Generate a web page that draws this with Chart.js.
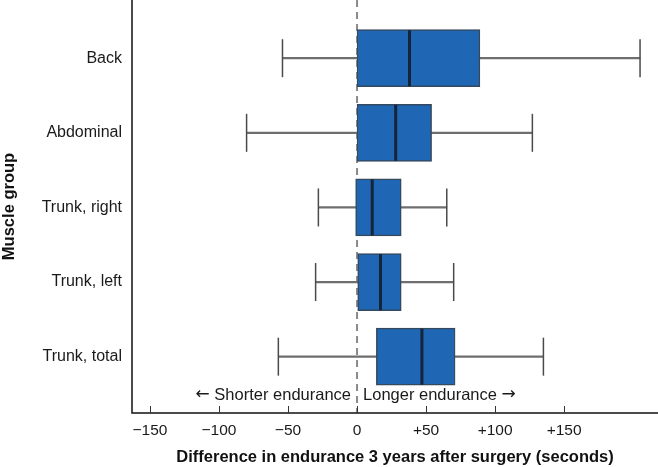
<!DOCTYPE html>
<html>
<head>
<meta charset="utf-8">
<script src="https://cdn.jsdelivr.net/npm/chart.js@4/dist/chart.umd.min.js"></script>
<style>
  html, body { margin: 0; padding: 0; background: #fff; }
  #wrap { width: 658px; height: 467px; }
</style>
</head>
<body>
<div id="wrap"><canvas id="chart"></canvas></div>
<script>
  // Muscle groups, top to bottom
  const groups = ['Back', 'Abdominal', 'Trunk, right', 'Trunk, left', 'Trunk, total'];
  // Box plot values (seconds)
  const whiskerMin = [-54, -80, -28, -30, -57];
  const q1 = [0, 0, -1, 0.5, 14];
  const median = [38, 28, 11, 17, 47];
  const q3 = [89, 54, 32, 32, 71];
  const whiskerMax = [205, 127, 65, 70, 135];
  const xTicks = [-150, -100, -50, 0, 50, 100, 150];

  const FONT = 'Liberation Sans, Arial, sans-serif';

  const idx = groups.map((_, i) => i);

  // no automatic label padding, the plot fills the canvas to the top and right
  function noPadding(s) {
    s.paddingLeft = 0;
    s.paddingRight = 0;
    s.paddingTop = 0;
    s.paddingBottom = 0;
  }

  // extra drawing: zero reference line, inward ticks, direction labels
  const extras = {
    id: 'extras',
    beforeDatasetsDraw(chart) {
      const { ctx, chartArea, scales } = chart;
      const x0 = scales.x.getPixelForValue(0);
      ctx.save();
      ctx.strokeStyle = '#8a8a8a';
      ctx.lineWidth = 2;
      ctx.setLineDash([7, 5]);
      ctx.beginPath();
      ctx.moveTo(x0, chartArea.top);
      ctx.lineTo(x0, chartArea.bottom);
      ctx.stroke();
      ctx.restore();
    },
    afterDraw(chart) {
      const { ctx, chartArea, scales } = chart;
      ctx.save();
      // axis lines
      ctx.strokeStyle = '#111';
      ctx.lineWidth = 1.5;
      ctx.beginPath();
      ctx.moveTo(chartArea.left, chartArea.top);
      ctx.lineTo(chartArea.left, chartArea.bottom);
      ctx.lineTo(chartArea.right, chartArea.bottom);
      ctx.stroke();
      // inward tick marks
      ctx.lineWidth = 1;
      ctx.strokeStyle = '#333';
      xTicks.forEach(v => {
        const px = Math.round(scales.x.getPixelForValue(v)) + 0.5;
        ctx.beginPath();
        ctx.moveTo(px, chartArea.bottom);
        ctx.lineTo(px, chartArea.bottom - 7);
        ctx.stroke();
      });
      // direction labels, arrows in a font with wider arrow glyphs
      const x0 = scales.x.getPixelForValue(0);
      const y = chartArea.bottom - 18;
      ctx.fillStyle = '#1a1a1a';
      ctx.textBaseline = 'middle';
      ctx.font = '16.5px ' + FONT;
      ctx.textAlign = 'right';
      ctx.fillText('Shorter endurance', x0 - 6, y);
      const wl = ctx.measureText('Shorter endurance ').width;
      ctx.textAlign = 'left';
      ctx.fillText('Longer endurance', x0 + 6, y);
      const wr = ctx.measureText('Longer endurance ').width;
      ctx.font = '17px DejaVu Sans, sans-serif';
      ctx.textAlign = 'right';
      ctx.fillText('\u2190', x0 - 6 - wl, y);
      ctx.textAlign = 'left';
      ctx.fillText('\u2192', x0 + 6 + wr, y);
      ctx.restore();
    }
  };

  new Chart(document.getElementById('chart'), {
    type: 'bar',
    data: {
      datasets: [
        {
          // median lines
          type: 'scatter',
          data: idx.map(i => ({ x: median[i], y: i })),
          pointStyle: 'line',
          rotation: 90,
          radius: 28,
          borderWidth: 3,
          borderColor: '#16243a',
          order: 0
        },
        {
          // whisker caps
          type: 'scatter',
          data: idx.flatMap(i => [{ x: whiskerMin[i], y: i }, { x: whiskerMax[i], y: i }]),
          pointStyle: 'line',
          rotation: 90,
          radius: 19,
          borderWidth: 1.5,
          borderColor: '#4a4a4a',
          order: 1
        },
        {
          // boxes
          data: idx.map(i => ({ y: i, x: [q1[i], q3[i]] })),
          backgroundColor: '#1f66b5',
          borderColor: '#34485e',
          borderWidth: 1.5,
          borderSkipped: false,
          barThickness: 57,
          grouped: false,
          order: 2
        },
        {
          // whisker lines
          data: idx.map(i => ({ y: i, x: [whiskerMin[i], whiskerMax[i]] })),
          backgroundColor: '#6e6e6e',
          borderWidth: 0,
          barThickness: 1.5,
          grouped: false,
          order: 3
        }
      ]
    },
    options: {
      indexAxis: 'y',
      responsive: true,
      maintainAspectRatio: false,
      animation: false,
      layout: { padding: 0, autoPadding: false },
      plugins: {
        legend: { display: false },
        tooltip: { enabled: false }
      },
      scales: {
        x: {
          type: 'linear',
          min: -163,
          max: 218,
          afterBuildTicks: s => { s.ticks = xTicks.map(v => ({ value: v })); },
          afterFit: s => { s.height = 54; noPadding(s); },
          grid: { display: false, drawTicks: false },
          border: { display: false },
          ticks: {
            padding: 8,
            color: '#1a1a1a',
            font: { family: FONT, size: 15.5 },
            callback: v => v === 0 ? '0' : (v > 0 ? '+' + v : '\u2212' + Math.abs(v))
          },
          title: {
            display: true,
            text: 'Difference in endurance 3 years after surgery (seconds)',
            color: '#111',
            font: { family: FONT, size: 16.5, weight: 'bold' },
            padding: { top: 4, bottom: 0 }
          }
        },
        y: {
          type: 'linear',
          reverse: true,
          offset: false,
          min: -0.78,
          max: 4.755,
          afterBuildTicks: s => { s.ticks = idx.map(v => ({ value: v })); },
          afterFit: s => { s.width = 132; noPadding(s); },
          grid: { display: false, drawTicks: false, offset: false },
          border: { display: false },
          ticks: {
            padding: 10,
            color: '#1a1a1a',
            font: { family: FONT, size: 16 },
            callback: v => groups[v]
          },
          title: {
            display: true,
            text: 'Muscle group',
            color: '#111',
            font: { family: FONT, size: 16.5, weight: 'bold' },
            padding: { top: 0, bottom: 0 }
          }
        }
      }
    },
    plugins: [extras]
  });
</script>
</body>
</html>
